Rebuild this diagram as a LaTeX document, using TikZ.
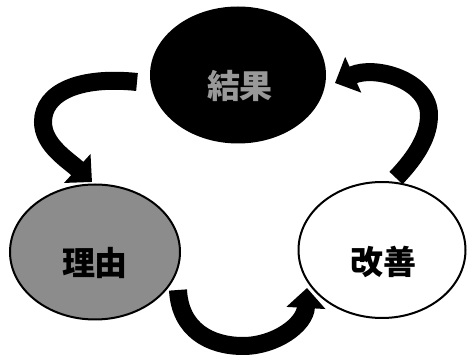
\documentclass[tikz,border=0pt]{standalone}
\usepackage{fontspec}
\newfontfamily\cjk{Noto Sans CJK JP}
\usetikzlibrary{shapes.geometric,arrows.meta}
\tikzset{
  bubble/.style={ellipse, draw=black, line width=2pt, inner sep=0pt},
  lbl/.style={font=\cjk\bfseries\fontsize{33}{33}\selectfont, inner sep=0pt},
  bigarrow/.style={draw=black, line width=18pt, line cap=butt,
    -{Triangle[length=20pt,width=38pt]}},
}
\begin{document}
\begin{tikzpicture}[x=1pt,y=-1pt]
\useasboundingbox (0,0) rectangle (467,358);
% ellipses
\node[bubble, fill=black, minimum width=174pt, minimum height=135pt] (res) at (238,75) {};
\node[bubble, fill=black!45, minimum width=170pt, minimum height=135pt] (why) at (95,252) {};
\node[bubble, fill=white, minimum width=167pt, minimum height=136pt] (imp) at (382,250) {};
% texts
\node[lbl, text=black!40] (tres) at (240,86) {結果};
\node[lbl, text=black] (twhy) at (95,263) {理由};
\node[lbl, text=black] (timp) at (383,262) {改善};
% arrow end points
\coordinate (a1s) at (137,82);
\coordinate (a1m) at (43,122);
\coordinate (a1e) at (92,182);
\coordinate (a2s) at (396,178);
\coordinate (a2m) at (429,115);
\coordinate (a2e) at (335,83);
\coordinate (a3s) at (178,290);
\coordinate (a3m) at (243,346);
\coordinate (a3e) at (307,288);
% arrows
\draw[bigarrow] (a1s) .. controls (80,76) and (43,92) .. (a1m)
  .. controls (43,145) and (68,160) .. (a1e);
\draw[bigarrow] (a2s) .. controls (418,155) and (429,135) .. (a2m)
  .. controls (429,80) and (375,65) .. (a2e);
\draw[bigarrow] (a3s) .. controls (180,330) and (210,346) .. (a3m)
  .. controls (275,346) and (305,325) .. (a3e);
\end{tikzpicture}
\end{document}
